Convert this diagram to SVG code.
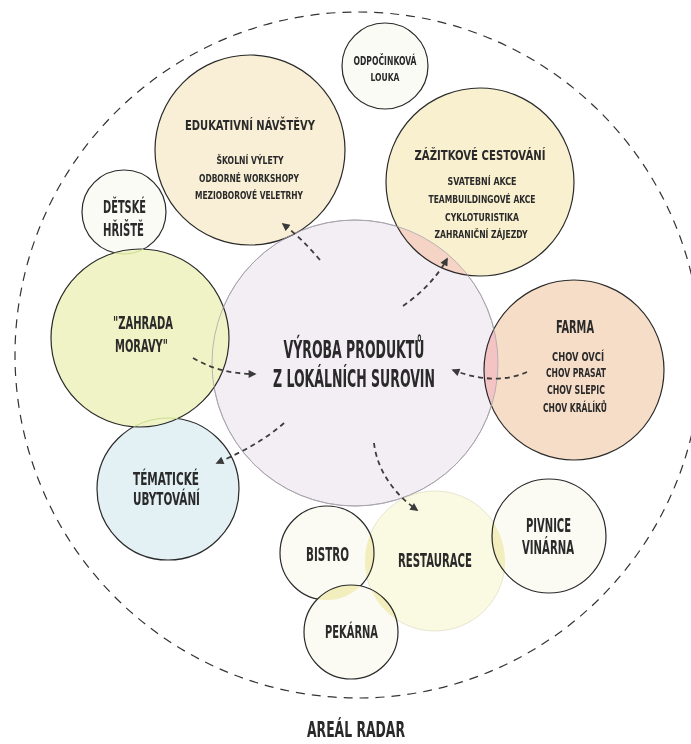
<svg xmlns="http://www.w3.org/2000/svg" width="691" height="744" viewBox="0 0 691 744">
<style>
  .t { font-family: "DejaVu Sans", "Liberation Sans", sans-serif; font-stretch: condensed; font-weight: 600; fill: #2a2a2a; text-anchor: middle; }
  .node { stroke: #2a2a2a; stroke-width: 1.2; }
  .conn { fill: none; stroke: #3c3c3c; stroke-width: 1.8; stroke-dasharray: 5 4; marker-end: url(#ah); }
  .lens { mix-blend-mode: multiply; }
</style>
<defs>
  <marker id="ah" viewBox="0 0 10 10" refX="8" refY="5" markerWidth="9" markerHeight="8" orient="auto" markerUnits="userSpaceOnUse">
    <path d="M0,0 L10,5 L0,10 z" fill="#3a3a3a"/>
  </marker>
  <clipPath id="cCenter"><circle cx="355" cy="363" r="143"/></clipPath>
  <clipPath id="cResta"><circle cx="435" cy="561" r="70"/></clipPath>
  <clipPath id="cZahr"><circle cx="140" cy="338" r="89"/></clipPath>
  <clipPath id="cPek"><circle cx="351" cy="632" r="47"/></clipPath>
</defs>
<rect width="691" height="744" fill="#ffffff"/>

<g id="areal">
  <circle cx="358" cy="355" r="343" fill="none" stroke="#333" stroke-width="1.2" stroke-dasharray="9 7"/>
  <text class="t" x="356" y="737" font-size="20.5" textLength="98" lengthAdjust="spacingAndGlyphs">AREÁL RADAR</text>
</g>

<g id="vyroba">
  <circle cx="355" cy="363" r="143" fill="#f3eef4" stroke="#9d97a3" stroke-width="0.9"/>
  <text class="t" x="354" y="358" font-size="24" textLength="141" lengthAdjust="spacingAndGlyphs">VÝROBA PRODUKTŮ</text>
  <text class="t" x="354" y="387" font-size="24" textLength="162" lengthAdjust="spacingAndGlyphs">Z LOKÁLNÍCH SUROVIN</text>
</g>

<g id="edukativni">
  <circle class="node" cx="250" cy="150" r="95" fill="#f8efd6"/>
  <text class="t" x="250" y="130" font-size="14.5" textLength="130" lengthAdjust="spacingAndGlyphs">EDUKATIVNÍ NÁVŠTĚVY</text>
  <text class="t" x="250" y="164" font-size="10.5" textLength="67" lengthAdjust="spacingAndGlyphs">ŠKOLNÍ VÝLETY</text>
  <text class="t" x="249" y="182" font-size="10.5" textLength="100" lengthAdjust="spacingAndGlyphs">ODBORNÉ WORKSHOPY</text>
  <text class="t" x="249" y="199" font-size="10.5" textLength="108" lengthAdjust="spacingAndGlyphs">MEZIOBOROVÉ VELETRHY</text>
</g>

<g id="zazitkove">
  <circle class="node" cx="480" cy="182" r="94" fill="#f9f0d0"/>
  <text class="t" x="480" y="160" font-size="14.5" textLength="131" lengthAdjust="spacingAndGlyphs">ZÁŽITKOVÉ CESTOVÁNÍ</text>
  <text class="t" x="482" y="185" font-size="10.5" textLength="69" lengthAdjust="spacingAndGlyphs">SVATEBNÍ AKCE</text>
  <text class="t" x="482" y="203" font-size="10.5" textLength="107" lengthAdjust="spacingAndGlyphs">TEAMBUILDINGOVÉ AKCE</text>
  <text class="t" x="482" y="221" font-size="10.5" textLength="74" lengthAdjust="spacingAndGlyphs">CYKLOTURISTIKA</text>
  <text class="t" x="481" y="238" font-size="10.5" textLength="93" lengthAdjust="spacingAndGlyphs">ZAHRANIČNÍ ZÁJEZDY</text>
</g>

<g id="odpocinkova">
  <circle class="node" cx="385" cy="66" r="43" fill="#fbfbf6"/>
  <text class="t" x="385" y="65" font-size="11.5" textLength="63" lengthAdjust="spacingAndGlyphs">ODPOČINKOVÁ</text>
  <text class="t" x="385" y="81" font-size="11" textLength="29" lengthAdjust="spacingAndGlyphs">LOUKA</text>
</g>

<g id="detske">
  <circle class="node" cx="124" cy="212" r="42" fill="#fbfbf6"/>
  <text class="t" x="124.5" y="213" font-size="17" textLength="43" lengthAdjust="spacingAndGlyphs">DĚTSKÉ</text>
  <text class="t" x="123.5" y="236" font-size="17" textLength="41" lengthAdjust="spacingAndGlyphs">HŘIŠTĚ</text>
</g>

<g id="tematicke">
  <circle class="node" cx="168" cy="489" r="71" fill="#e3f1f4"/>
  <text class="t" x="166" y="485" font-size="17.5" textLength="66" lengthAdjust="spacingAndGlyphs">TÉMATICKÉ</text>
  <text class="t" x="166.5" y="505" font-size="17.5" textLength="67" lengthAdjust="spacingAndGlyphs">UBYTOVÁNÍ</text>
</g>

<g id="zahrada">
  <circle class="node" cx="140" cy="338" r="89" fill="#f0f3c5"/>
  <text class="t" x="143" y="329" font-size="17" textLength="60" lengthAdjust="spacingAndGlyphs">"ZAHRADA</text>
  <text class="t" x="141.5" y="352" font-size="17" textLength="53" lengthAdjust="spacingAndGlyphs">MORAVY"</text>
</g>

<g id="farma">
  <circle class="node" cx="574" cy="370" r="90" fill="#f6ddc8"/>
  <text class="t" x="575" y="333" font-size="17" textLength="38" lengthAdjust="spacingAndGlyphs">FARMA</text>
  <text class="t" x="578" y="361" font-size="11.5" textLength="52" lengthAdjust="spacingAndGlyphs">CHOV OVCÍ</text>
  <text class="t" x="576" y="377" font-size="11.5" textLength="60" lengthAdjust="spacingAndGlyphs">CHOV PRASAT</text>
  <text class="t" x="576" y="394" font-size="11.5" textLength="58" lengthAdjust="spacingAndGlyphs">CHOV SLEPIC</text>
  <text class="t" x="575" y="412" font-size="11.5" textLength="64" lengthAdjust="spacingAndGlyphs">CHOV KRÁLÍKŮ</text>
</g>

<g id="restaurace">
  <circle cx="435" cy="561" r="70" fill="#faf9e2" stroke="#e2e0c8" stroke-width="0.8"/>
  <text class="t" x="435" y="567" font-size="20" textLength="74" lengthAdjust="spacingAndGlyphs">RESTAURACE</text>
</g>

<g id="bistro">
  <circle class="node" cx="327" cy="553" r="47" fill="#fbfbf4"/>
  <text class="t" x="327.5" y="561" font-size="19" textLength="43" lengthAdjust="spacingAndGlyphs">BISTRO</text>
</g>

<g id="pekarna">
  <circle class="node" cx="351" cy="632" r="47" fill="#fbfbf4"/>
  <text class="t" x="351.5" y="638" font-size="18" textLength="53" lengthAdjust="spacingAndGlyphs">PEKÁRNA</text>
</g>

<g id="pivnice">
  <circle class="node" cx="549" cy="536" r="57" fill="#fbfbf4"/>
  <text class="t" x="548.5" y="532" font-size="20" textLength="45" lengthAdjust="spacingAndGlyphs">PIVNICE</text>
  <text class="t" x="548" y="554" font-size="20" textLength="52" lengthAdjust="spacingAndGlyphs">VINÁRNA</text>
</g>

<g id="overlaps">
  <circle class="lens" cx="574" cy="370" r="90" fill="#fde3fb" clip-path="url(#cCenter)"/>
  <circle class="lens" cx="480" cy="182" r="94" fill="#fbe2f2" clip-path="url(#cCenter)"/>
  <circle class="lens" cx="327" cy="553" r="47" fill="#f6f2c6" clip-path="url(#cResta)"/>
  <circle class="lens" cx="351" cy="632" r="47" fill="#f6f2c6" clip-path="url(#cResta)"/>
  <circle class="lens" cx="549" cy="536" r="57" fill="#f6f2c6" clip-path="url(#cResta)"/>
  <circle class="lens" cx="327" cy="553" r="47" fill="#f6f2c6" clip-path="url(#cPek)"/>
  <circle cx="124" cy="212" r="42" fill="none" stroke="#c9dc8e" stroke-width="1" clip-path="url(#cZahr)"/>
  <circle cx="168" cy="489" r="71" fill="none" stroke="#c9dc8e" stroke-width="1" clip-path="url(#cZahr)"/>
  <circle cx="355" cy="363" r="143" fill="none" stroke="#aaa4ad" stroke-width="0.8"/>
</g>

<g id="connectors">
  <path class="conn" d="M320,260 C308,246 296,234 283,224"/>
  <path class="conn" d="M403,306 C420,294 436,279 447,259"/>
  <path class="conn" d="M193,358 C212,369 232,374 255,374"/>
  <path class="conn" d="M527,372 C505,382 478,380 453,370"/>
  <path class="conn" d="M284,423 C265,440 242,452 217,463"/>
  <path class="conn" d="M374,443 C377,470 394,494 417,510"/>
</g>
</svg>
